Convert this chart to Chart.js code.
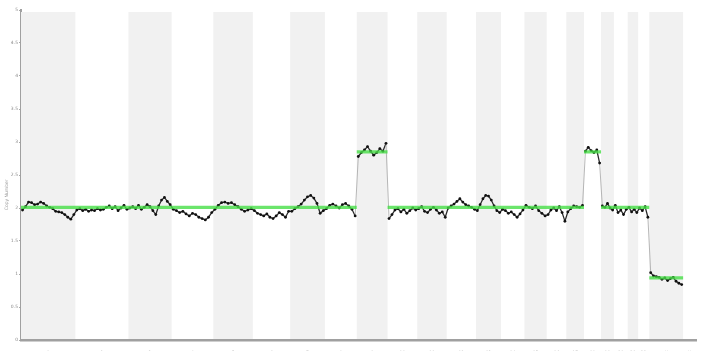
<!DOCTYPE html>
<html>
<head>
<meta charset="utf-8">
<script src="https://cdn.jsdelivr.net/npm/chart.js@4.4.1/dist/chart.umd.min.js"></script>
<style>
  html, body { margin: 0; padding: 0; background: #ffffff; }
  #wrap { width: 702px; height: 352px; }
</style>
</head>
<body>
<div id="wrap"><canvas id="cn"></canvas></div>
<script>
// Chromosomes and their lengths (Mb, hg19)
const chromNames = ['1','2','3','4','5','6','7','8','9','10','11','12','13','14','15','16','17','18','19','20','21','22','X','Y'];
const chromLengthsMb = [249,243,198,191,181,171,159,146,141,136,135,134,115,107,102,90,81,78,59,63,48,51,155,59];

// Smoothed copy-number profile, evenly spaced along each chromosome
const cn1  = [1.97,2.02,2.09,2.08,2.05,2.06,2.09,2.07,2.03,2.01,1.99,1.95,1.94,1.93,1.90,1.86,1.83,1.90];
const cn2  = [1.97,1.99,1.96,1.98,1.95,1.97,1.96,1.99,1.97,1.98,2.01,2.03,1.99,2.02,1.96,2.00,2.04,1.98];
const cn3  = [2.00,2.02,1.99,2.04,1.98,2.01,2.05,2.02,1.96,1.90,2.03,2.12,2.16,2.10,2.05];
const cn4  = [1.98,1.96,1.93,1.95,1.91,1.88,1.92,1.90,1.86,1.84,1.82,1.86,1.93];
const cn5  = [1.98,2.04,2.08,2.09,2.07,2.08,2.05,2.02,1.98,1.95,1.97,1.99];
const cn6  = [1.96,1.92,1.90,1.88,1.91,1.86,1.84,1.88,1.93,1.90,1.86,1.95];
const cn7  = [1.95,1.99,2.02,2.06,2.12,2.17,2.19,2.15,2.07,1.92,1.96];
const cn8  = [1.99,2.04,2.06,2.03,2.00,2.05,2.07,2.03,1.98,1.88];
const cn9  = [2.78,2.84,2.88,2.93,2.86,2.80,2.84,2.90,2.86,2.98];
const cn10 = [1.84,1.90,1.97,1.99,1.94,1.98,1.92,1.96,2.00,1.97];
const cn11 = [1.99,2.02,1.95,1.93,1.98,2.01,1.97,1.92,1.94,1.86];
const cn12 = [2.00,2.03,2.06,2.10,2.14,2.09,2.05,2.03,2.01,1.98];
const cn13 = [1.96,2.05,2.14,2.19,2.18,2.12,2.03,1.96,1.93];
const cn14 = [1.98,1.96,1.92,1.94,1.90,1.86,1.91,1.97];
const cn15 = [2.04,2.01,1.99,2.03,1.96,1.92,1.88];
const cn16 = [1.90,1.97,2.00,1.96,2.02,1.93,1.80];
const cn17 = [1.94,1.99,2.03,2.02,2.01,2.04];
const cn18 = [2.86,2.92,2.87,2.84,2.88,2.68];
const cn19 = [2.03,2.01,2.07,2.00,1.97];
const cn20 = [2.04,1.93,1.97,1.90,1.98];
const cn21 = [2.01,1.94,1.98,1.93];
const cn22 = [2.00,1.96,2.02,1.86];
const cnX  = [1.02,0.97,0.96,0.95,0.92,0.94,0.90,0.93,0.95,0.89,0.86,0.84];
const cnY  = [];
const copyNumbers = [cn1,cn2,cn3,cn4,cn5,cn6,cn7,cn8,cn9,cn10,cn11,cn12,cn13,cn14,cn15,cn16,cn17,cn18,cn19,cn20,cn21,cn22,cnX,cnY];

// Segmented copy number, one call per chromosome
const segmentValues = [2.01,2.01,2.01,2.01,2.01,2.01,2.01,2.01,2.85,2.01,2.01,2.01,2.01,2.01,2.01,2.01,2.01,2.85,2.01,2.01,2.01,2.01,0.94,null];

const yTickValues = [0,0.5,1,1.5,2,2.5,3,3.5,4,4.5,5];
const yAxisTitle = 'Copy Number';

// Cumulative genome offsets
const chromStart = [];
let acc = 0;
chromLengthsMb.forEach(len => { chromStart.push(acc); acc += len; });
const genomeLength = acc;
const chromCenter = chromStart.map((s, i) => s + chromLengthsMb[i] / 2);

const profilePoints = [];
copyNumbers.forEach((vals, c) => {
  const n = vals.length;
  vals.forEach((v, i) => {
    profilePoints.push({ x: chromStart[c] + (i + 0.5) / n * chromLengthsMb[c], y: v });
  });
});

const segmentPoints = [];
segmentValues.forEach((v, c) => {
  if (v === null) return;
  segmentPoints.push({ x: chromStart[c], y: v });
  segmentPoints.push({ x: chromStart[c] + chromLengthsMb[c], y: v });
  segmentPoints.push({ x: chromStart[c] + chromLengthsMb[c], y: null });
});

// Alternating chromosome shading
const chromBands = {
  id: 'chromBands',
  beforeDatasetsDraw(chart) {
    const { ctx, chartArea, scales } = chart;
    ctx.save();
    ctx.fillStyle = '#f1f1f1';
    chromStart.forEach((s, i) => {
      if (i % 2 !== 0) return;
      const x0 = scales.x.getPixelForValue(s);
      const x1 = scales.x.getPixelForValue(s + chromLengthsMb[i]);
      ctx.fillRect(x0, chartArea.top + 2, x1 - x0, chartArea.bottom - chartArea.top - 3);
    });
    ctx.restore();
  }
};

// Rotated y-axis caption, set a little below the middle of the axis
const yCaption = {
  id: 'yCaption',
  afterDraw(chart) {
    const { ctx, scales } = chart;
    ctx.save();
    ctx.translate(7, scales.y.getPixelForValue(2.2));
    ctx.rotate(-Math.PI / 2);
    ctx.fillStyle = '#9a9a9a';
    ctx.font = '4.5px "DejaVu Sans"';
    ctx.textAlign = 'center';
    ctx.textBaseline = 'middle';
    ctx.fillText(yAxisTitle, 0, 0);
    ctx.restore();
  }
};

// Steep jumps between copy-number states are drawn as faint connectors
const isJump = ctx => Math.abs(ctx.p1.parsed.y - ctx.p0.parsed.y) > 0.4;

new Chart(document.getElementById('cn'), {
  type: 'line',
  data: {
    datasets: [
      {
        label: 'Copy number',
        data: profilePoints,
        borderColor: '#2b2b2b',
        borderWidth: 1.3,
        pointRadius: 1.4,
        pointBackgroundColor: '#111111',
        pointBorderWidth: 0,
        tension: 0,
        order: 2,
        segment: {
          borderColor: ctx => isJump(ctx) ? '#a5a5a5' : undefined,
          borderWidth: ctx => isJump(ctx) ? 0.8 : undefined
        }
      },
      {
        label: 'Segments',
        data: segmentPoints,
        borderColor: 'rgba(70,222,70,0.8)',
        borderWidth: 3.2,
        pointRadius: 0,
        spanGaps: false,
        tension: 0,
        order: 1
      }
    ]
  },
  options: {
    responsive: true,
    maintainAspectRatio: false,
    animation: false,
    layout: { padding: { top: 10, right: 6, left: 0, bottom: 1 } },
    plugins: {
      legend: { display: false },
      tooltip: { enabled: false }
    },
    scales: {
      x: {
        type: 'linear',
        min: 0,
        max: genomeLength,
        afterFit(scale) { scale.height = 11; },
        afterBuildTicks(scale) { scale.ticks = chromCenter.map(v => ({ value: v })); },
        grid: { display: false },
        border: { display: true, color: '#a0a0a0', width: 2.5 },
        ticks: {
          autoSkip: false,
          maxRotation: 0,
          padding: 2,
          color: '#8a8a8a',
          font: { family: 'DejaVu Sans', size: 4.5 },
          callback(value, index) { return chromNames[index]; }
        }
      },
      y: {
        min: 0,
        max: 5,
        afterFit(scale) { scale.width = 21; },
        afterBuildTicks(scale) { scale.ticks = yTickValues.map(v => ({ value: v })); },
        grid: { display: true, drawOnChartArea: false, drawTicks: true, tickLength: 2, color: '#a8a8a8' },
        border: { display: true, color: '#a0a0a0', width: 2 },
        ticks: {
          padding: 1,
          color: '#8a8a8a',
          font: { family: 'DejaVu Sans', size: 4.5 },
          callback(value) { return String(value); }
        }
      }
    }
  },
  plugins: [chromBands, yCaption]
});
</script>
</body>
</html>
